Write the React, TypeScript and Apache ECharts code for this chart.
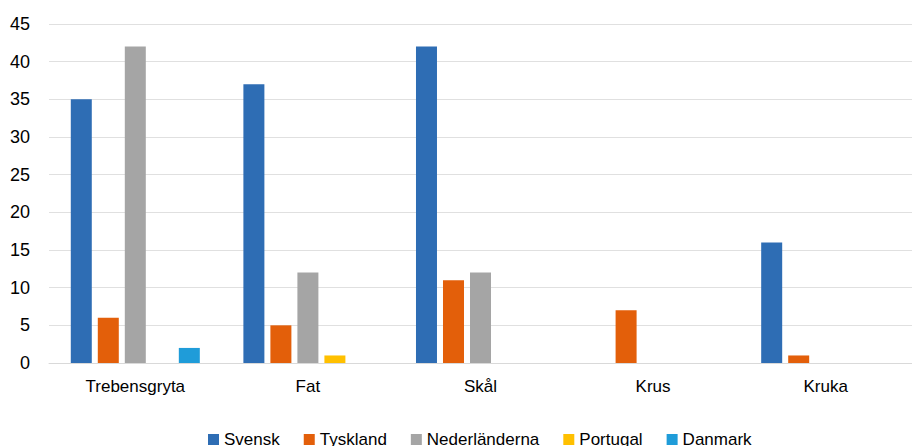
import React, { useEffect, useRef } from "react";
import * as echarts from "echarts";

const categories = ["Trebensgryta", "Fat", "Skål", "Krus", "Kruka"];
const seriesNames = ["Svensk", "Tyskland", "Nederländerna", "Portugal", "Danmark"];
const svensk = [35, 37, 42, 0, 16];
const tyskland = [6, 5, 11, 7, 1];
const nederlanderna = [42, 12, 12, 0, 0];
const portugal = [0, 1, 0, 0, 0];
const danmark = [2, 0, 0, 0, 0];
const colors = ["#2e6db4", "#e35f0a", "#a5a5a5", "#ffc000", "#1f9cd9"];

export default function App() {
  const ref = useRef<HTMLDivElement>(null);
  useEffect(() => {
    if (!ref.current) return;
    const chart = echarts.init(ref.current, undefined, { renderer: "svg" });
    const values = [svensk, tyskland, nederlanderna, portugal, danmark];
    chart.setOption({
      animation: false,
      textStyle: { fontFamily: "Liberation Sans, Arial, sans-serif" },
      grid: { left: 49, right: -12.5, top: 24, bottom: 83, containLabel: false },
      legend: {
        data: seriesNames,
        left: 203,
        top: 426,
        itemWidth: 11,
        itemHeight: 11,
        itemGap: 24,
        icon: "rect",
        textStyle: { fontSize: 17, color: "#000", fontFamily: "Liberation Sans, Arial, sans-serif" },
      },
      xAxis: {
        type: "category",
        data: categories,
        axisLine: { lineStyle: { color: "#d9d9d9", width: 1 } },
        axisTick: { show: false },
        axisLabel: { fontSize: 17, color: "#000", margin: 15 },
      },
      yAxis: {
        type: "value",
        min: 0,
        max: 45,
        interval: 5,
        axisLine: { show: false },
        axisTick: { show: false },
        axisLabel: { fontSize: 18, color: "#000", margin: 19 },
        splitLine: { lineStyle: { color: "#e0e0e0", width: 1 } },
      },
      series: seriesNames.map((name, i) => ({
        name,
        type: "bar",
        data: values[i],
        barWidth: 21,
        barGap: "28.6%",
        itemStyle: { color: colors[i] },
      })),
    });
    return () => chart.dispose();
  }, []);
  return <div ref={ref} style={{ width: 912, height: 446, position: "absolute", left: 0, top: 0 }} />;
}
